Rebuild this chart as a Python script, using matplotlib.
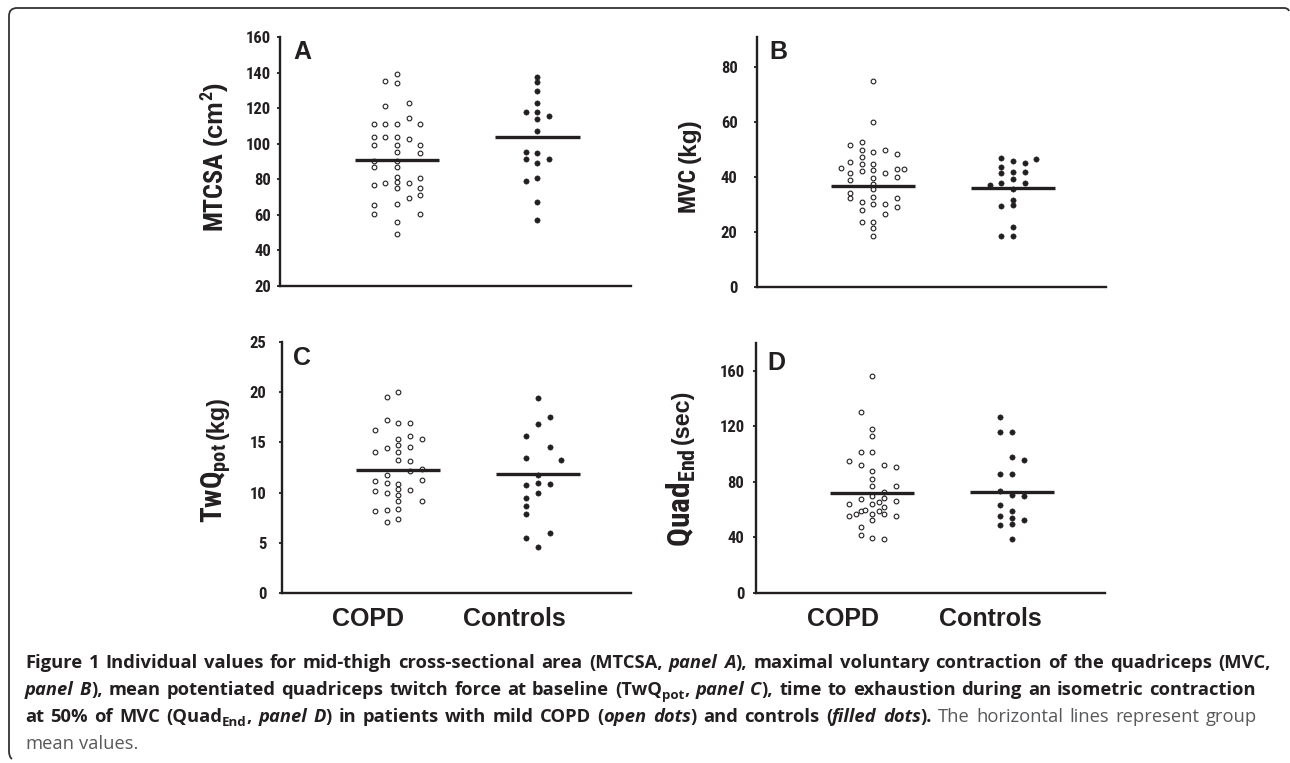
# Figure 1: individual values, COPD vs controls (four panels)
import re
import matplotlib
matplotlib.use('Agg')
import matplotlib.pyplot as plt
from matplotlib.path import Path
from matplotlib.patches import PathPatch
import numpy as np

# ---------------- data ----------------
groups = ['COPD', 'Controls']

# panel A - MTCSA (cm2); *_col = horizontal column of the dot in the scatter
a_copd = [111, 104, 99.5, 90.5, 87, 77, 65.5, 60.5,
          135.5, 121, 111, 104, 78,
          139, 134, 111, 104, 99.5, 95.5, 90.5, 87, 81.5, 78.5, 75, 66, 56, 49.5,
          123, 114.5, 102.5, 78, 69.5,
          111, 99.5, 94.5, 80.5, 75, 71, 60.5]
a_copd_col = [-2]*8 + [-1]*5 + [0]*14 + [1]*5 + [2]*7
a_ctl = [137.5, 134.5, 129.5, 123, 118, 114, 107, 95, 89, 80.5, 67.5, 57,
         118, 95.5, 91.5, 79,
         115.5, 91.5]
a_ctl_col = [0]*12 + [-1]*4 + [1]*2
a_means = [91.1, 103.7]

# panel B - MVC (kg)
b_copd = [43.2,
          51.6, 45.5, 41.6, 39.0, 34.1, 32.3,
          52.9, 49.8, 47.4, 44.6, 42.4, 30.9, 27.9, 23.7,
          74.9, 60.2, 49.1, 44.6, 42.6, 39.8, 37.5, 35.7, 32.6, 30.1, 23.5, 21.3, 18.6,
          49.9, 41.6, 30.1, 26.7,
          48.4, 42.9, 40.1, 32.3, 29.3,
          42.9]
b_copd_col = [-2.8] + [-2]*6 + [-1]*8 + [0]*13 + [1]*4 + [2]*5 + [2.6]
b_ctl = [37.1,
         46.8, 43.8, 41.4, 37.8, 29.5, 18.7,
         46.0, 41.7, 39.3, 35.7, 31.7, 29.7, 21.9, 18.6,
         45.1, 42.0, 37.8,
         46.5]
b_ctl_col = [-2] + [-1]*6 + [0]*8 + [1]*3 + [2]
b_means = [36.9, 35.9]

# panel C - TwQpot (kg)
c_copd = [16.2, 14.0, 11.2, 10.2, 8.2,
          19.5, 17.2, 14.4, 11.8, 11.0, 10.0, 8.3, 7.1,
          20.0, 16.9, 15.3, 14.7, 14.0, 13.2, 10.9, 10.4, 9.8, 9.2, 8.4, 7.4,
          16.9, 15.6, 14.5, 13.1, 12.2, 10.3,
          15.3, 12.4, 11.3, 9.2]
c_copd_col = [-2]*5 + [-1]*8 + [0]*12 + [1]*6 + [2]*4
c_ctl = [19.4, 16.8, 11.8, 11.0, 10.0, 4.6,
         15.6, 13.4, 10.8, 9.5, 8.7, 7.9, 5.5,
         17.5, 14.5, 10.9, 6.0,
         13.2]
c_ctl_col = [0]*6 + [-1]*7 + [1]*4 + [2]
c_means = [12.3, 11.9]

# panel D - QuadEnd (sec)
d_copd = [156.2, 118.1, 112.8, 101.8, 87.9, 81.9, 76.9, 69.7, 64.0, 56.8, 52.9, 39.5,
          130.1, 101.8, 92.0, 67.8, 58.9, 47.7, 41.7,
          94.9, 64.0, 55.8,
          56.8, 59.6, 65.6, 58.9,
          92.0, 72.8, 68.7, 61.8, 56.8, 38.8,
          91.0, 76.9, 65.9, 55.8]
d_copd_col = [0]*12 + [-1]*7 + [-2]*3 + [-1.4, -0.6, 0.6, 0.6] + [1]*6 + [2]*4
d_ctl = [126.9, 115.9, 85.7, 73.8, 63.7, 55.8, 48.9,
         115.9, 98.0, 85.7, 70.7, 58.7, 54.1, 49.8, 38.8,
         96.0, 69.9, 52.9]
d_ctl_col = [-1]*7 + [0]*8 + [1]*3
d_means = [72.1, 72.6]

# ---------------- fonts ----------------
narrow = ['Roboto Condensed', 'PT Sans Narrow', 'Liberation Sans', 'DejaVu Sans']
plain = ['Liberation Sans', 'DejaVu Sans']
cap_font = ['Open Sans', 'DejaVu Sans']

plt.rcParams['mathtext.fontset'] = 'custom'
plt.rcParams['mathtext.bf'] = 'Roboto Condensed:bold'
plt.rcParams['mathtext.rm'] = 'Roboto Condensed'

ink = '#231f20'
W, H = 1290, 763

fig = plt.figure(figsize=(W / 100, H / 100), dpi=100)
renderer = fig.canvas.get_renderer()


def fx(x):
    return x / W


def fy(y):
    return 1 - y / H


def box(l, t, r, b):
    return [l / W, 1 - b / H, (r - l) / W, (b - t) / H]


def panel(rect, copd, copd_col, ctl, ctl_col, means, ylim, yticks, pad):
    ax = fig.add_axes(rect)
    ax.patch.set_alpha(0)
    pos = [1.0, 2.2]
    ax.plot(pos[0] + 0.1 * np.array(copd_col), copd, 'o', ls='none', ms=3.4,
            mfc='white', mec=ink, mew=0.8, clip_on=False, zorder=2)
    ax.plot(pos[1] + 0.1 * np.array(ctl_col), ctl, 'o', ls='none', ms=3.8,
            mfc=ink, mec=ink, mew=0.4, clip_on=False, zorder=2)
    for p, m in zip(pos, means):
        ax.plot([p - 0.36, p + 0.36], [m, m], color=ink, lw=2.4,
                solid_capstyle='butt', zorder=3)
    ax.set_xlim(0, 3)
    ax.set_ylim(*ylim)
    ax.set_yticks(yticks)
    ax.set_xticks([])
    for s in ['top', 'right']:
        ax.spines[s].set_visible(False)
    for s in ['left', 'bottom']:
        ax.spines[s].set_linewidth(1.7)
        ax.spines[s].set_color(ink)
    ax.tick_params(axis='y', direction='out', length=2.5, width=1.3, pad=pad,
                   labelsize=12, colors=ink)
    for lab in ax.get_yticklabels():
        lab.set_fontfamily(narrow)
        lab.set_fontweight('bold')
    return ax


panel(box(280, 37, 631, 286), a_copd, a_copd_col, a_ctl, a_ctl_col, a_means,
      (20, 160), range(20, 161, 20), 4.0)
panel(box(757, 37, 1106, 287), b_copd, b_copd_col, b_ctl, b_ctl_col, b_means,
      (0, 91), range(0, 81, 20), 11.5)
panel(box(282, 342, 631, 593), c_copd, c_copd_col, c_ctl, c_ctl_col, c_means,
      (0, 25), range(0, 26, 5), 8.6)
panel(box(756, 343, 1105, 593), d_copd, d_copd_col, d_ctl, d_ctl_col, d_means,
      (0, 180), range(0, 161, 40), 5.8)


# axis titles: condensed main part, then the unit right after it (rotated);
# sizes are fitted to the lengths seen in the reference
def fitted(x, ybot, s, length, family, base):
    t = fig.text(fx(x), fy(ybot), s, rotation=90, ha='center', va='bottom',
                 family=family, weight='bold', color=ink, size=base)
    h = t.get_window_extent(renderer).height
    t.set_fontsize(base * length / h)
    return t.get_window_extent(renderer).y1


for main, unit, x, ybot, mlen, ulen in [
        ('MTCSA', r'(cm$^{\mathbf{2}}$)', 214, 230, 79, 66),
        ('MVC', '(kg)', 688, 212, 45, 45),
        (r'$\mathbf{TwQ}_{\mathbf{pot}}$', '(kg)', 216, 523, 80, 43),
        (r'$\mathbf{Quad}_{\mathbf{End}}$', '(sec)', 681, 547, 99, 55)]:
    top = fitted(x, ybot, main, mlen, narrow, 20)
    fitted(x + 1, H - top - 4, unit, ulen, plain, 15)

# panel letters
for letter, x, y in [('A', 293, 52), ('B', 769, 52), ('C', 293, 358), ('D', 767, 363)]:
    fig.text(fx(x), fy(y), letter, ha='left', va='center', family=plain,
             weight='bold', size=18, color=ink)

# group names under the lower panels
for name, x in zip(groups * 2, [368, 514, 843, 990]):
    fig.text(fx(x), fy(619), name, ha='center', va='center', family=plain,
             weight='bold', size=18, color=ink)

# frame (left and top edges, rounded corner)
frame = [(12, 759), (9, 757), (9, 751), (9, 16), (9, 8), (17, 8),
         (1284, 8), (1288, 8), (1289, 11)]
codes = [Path.MOVETO, Path.CURVE3, Path.CURVE3, Path.LINETO, Path.CURVE3, Path.CURVE3,
         Path.LINETO, Path.CURVE3, Path.CURVE3]
fig.patches.append(PathPatch(Path([(fx(x), fy(y)) for x, y in frame], codes),
                             transform=fig.transFigure, fill=False, lw=1.3,
                             ec='#333333'))

# ---------------- caption ----------------
cap_lines = [
    [("Figure 1 Individual values for mid-thigh cross-sectional area (MTCSA, ", 'b'),
     ("panel A", 'bi'),
     ("), maximal voluntary contraction of the quadriceps (MVC,", 'b')],
    [("panel B", 'bi'),
     ("), mean potentiated quadriceps twitch force at baseline (TwQ", 'b'),
     ("pot", 'bs'), (", ", 'b'), ("panel C", 'bi'),
     ("), time to exhaustion during an isometric contraction", 'b')],
    [("at 50% of MVC (Quad", 'b'), ("End", 'bs'), (", ", 'b'), ("panel D", 'bi'),
     (") in patients with mild COPD (", 'b'), ("open dots", 'bi'),
     (") and controls (", 'b'), ("filled dots", 'bi'), (").", 'b'),
     (" The horizontal lines represent group", 'r')],
    [("mean values.", 'r')],
]
cap_right = [1271, 1256, 1257, None]
cap_base = [668, 695, 722, 749]
cap_left = 25

styles = {
    'b': dict(weight='bold', color=ink),
    'bi': dict(weight='bold', style='italic', color=ink),
    'bs': dict(weight='bold', color=ink),
    'r': dict(weight='normal', color='#58595b'),
}


def width_of(s, size, st):
    t = fig.text(0, 0, s, family=cap_font, size=size, **styles[st])
    w = t.get_window_extent(renderer).width
    t.remove()
    return w


def tokens(line):
    out = []
    for text, st in line:
        for tok in re.split('( )', text):
            if tok:
                out.append((tok, st))
    return out


def natural(line, size):
    total, nsp = 0.0, 0
    for tok, st in tokens(line):
        s = size * 0.72 if st == 'bs' else size
        if tok == ' ':
            total += width_of('n n', s, st) - width_of('nn', s, st)
            nsp += 1
        else:
            total += width_of(tok, s, st)
    return total, nsp


base = 11.0
fit = min((r - cap_left) / natural(l, base)[0]
          for l, r in zip(cap_lines, cap_right) if r)
cap_size = base * fit * 0.985

for line, right, yb in zip(cap_lines, cap_right, cap_base):
    nat, nsp = natural(line, cap_size)
    extra = (right - cap_left - nat) / nsp if (right and nsp) else 0.0
    x = cap_left
    for tok, st in tokens(line):
        s = cap_size * 0.72 if st == 'bs' else cap_size
        if tok == ' ':
            x += width_of('n n', s, st) - width_of('nn', s, st) + extra
            continue
        y = yb + 4 if st == 'bs' else yb
        fig.text(fx(x), fy(y), tok, family=cap_font, size=s, ha='left',
                 va='baseline', **styles[st])
        x += width_of(tok, s, st)

fig.savefig('out.png', dpi=100)
